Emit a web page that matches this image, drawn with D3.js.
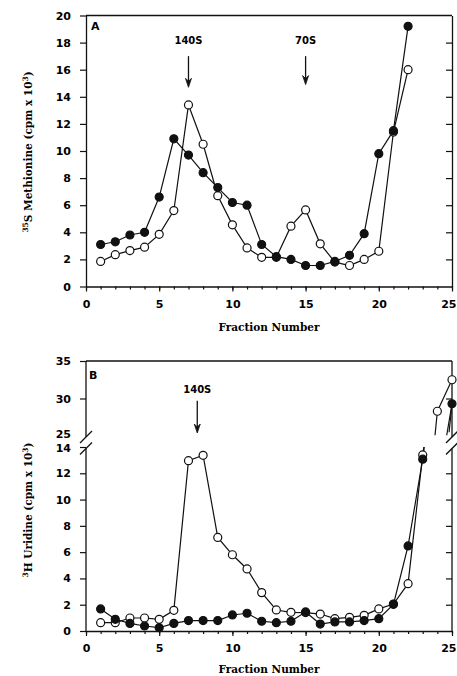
<!DOCTYPE html>
<html><head><meta charset="utf-8">
<script src="https://cdn.jsdelivr.net/npm/d3@7"></script>
<style>
html,body{margin:0;padding:0;background:#fff;}
svg{display:block;}
.tick text{font-family:"DejaVu Sans",sans-serif;font-weight:bold;font-size:11px;fill:#000;}
</style></head>
<body>
<script>
// ---------- DATA ----------
const fractionsA = d3.range(1, 23);
const filledA = [3.1,3.3,3.8,4.0,6.6,10.9,9.7,8.4,7.3,6.2,6.0,3.1,2.2,2.0,1.55,1.55,1.85,2.3,3.9,9.8,11.5,19.2];
const openA   = [1.85,2.35,2.65,2.9,3.85,5.6,13.4,10.5,6.7,4.55,2.85,2.15,2.15,4.45,5.65,3.15,1.8,1.55,2.0,2.6,11.4,16.0];

const fractionsB = d3.range(1, 24);
const openB   = [0.63,0.63,0.99,0.99,0.89,1.57,12.96,13.37,7.12,5.8,4.72,2.92,1.6,1.42,1.4,1.29,0.94,1.04,1.19,1.68,2.05,3.6,13.4];
const filledB = [1.68,0.89,0.58,0.38,0.25,0.58,0.79,0.79,0.79,1.22,1.35,0.74,0.63,0.74,1.45,0.53,0.69,0.69,0.79,0.94,2.03,6.47,13.07];
// values above the axis break (panel B)
const openUpperFractions = [24, 25];
const openUpper = [28.3, 32.5];
const filledUpperFractions = [25];
const filledUpper = [29.3];
// short line stubs crossing the axis break [fraction, value]
const openBreakStubs = [[[23,13.4],[23.08,14.0]], [[23.84,25.1],[24,28.3]]];
const filledBreakStubs = [[[23,13.07],[23.1,14.0]], [[24.64,25.1],[25,29.3]], [[24.8,25.5],[25,29.3]]];

const xTicks = [0,5,10,15,20,25];
const yTicksA = d3.range(0, 21, 2);
const yTicksBLow = d3.range(0, 15, 2);
const yTicksBHigh = [25, 30, 35];
const rightTicksBLow = [2,4,6,8,10,12];
const rightTicksBHigh = [30];

const annotationsA = [{label:"140S", x:7, yText:18.15, yTop:17.0, yBottom:14.7},
                      {label:"70S", x:15, yText:18.15, yTop:17.0, yBottom:14.9}];
const annotationsB = [{label:"140S", x:7.6, yText:31.2, yTop:29.7, yBottom:25.4}];

// ---------- DRAW ----------
const W = 457, H = 676;
const svg = d3.select("body").append("svg").attr("width", W).attr("height", H);

const x = d3.scaleLinear().domain([0,25]).range([86, 452]);
const yA = d3.scaleLinear().domain([0,20]).range([286.5, 15.5]);
const yBLow = d3.scaleLinear().domain([0,14]).range([631, 447]);
const yBHigh = d3.scaleLinear().domain([25,35]).range([436, 361]);
const yB = v => v <= 14 ? yBLow(v) : (v >= 25 ? yBHigh(v) : yBLow(14) + (v-14)/(11)*(yBHigh(25)-yBLow(14)));

const stroke = "#111";

function styleAxis(g){
  g.selectAll("path.domain").attr("stroke", stroke).attr("stroke-width", 1.3);
  g.selectAll(".tick line").attr("stroke", stroke).attr("stroke-width", 1.2);
}

function bottomAxis(y0){
  const g = svg.append("g").attr("transform", `translate(0,${y0})`);
  g.call(d3.axisBottom(x).tickValues(d3.range(0,26)).tickSize(3).tickFormat("").tickSizeOuter(0));
  styleAxis(g);
  const g2 = svg.append("g").attr("transform", `translate(0,${y0})`);
  g2.call(d3.axisBottom(x).tickValues(xTicks).tickSize(5).tickPadding(8.5).tickSizeOuter(0));
  g2.select("path.domain").remove();
  styleAxis(g2);
  // last label sits at the window edge: right-align it so it stays visible
  g2.selectAll(".tick").filter(d=>d===25).select("text")
    .attr("text-anchor","end").attr("x", W - 1 - x(25));
}

function line(px1, py1, px2, py2, w){
  svg.append("line").attr("x1",px1).attr("y1",py1).attr("x2",px2).attr("y2",py2)
    .attr("stroke", stroke).attr("stroke-width", w || 1.3);
}

function serifText(xp, yp, parts, rotate){
  const t = svg.append("text")
    .attr("font-family", "'DejaVu Serif', serif").attr("font-weight", "bold")
    .attr("font-size", 10.5).attr("text-anchor", "middle").attr("fill", "#000");
  if (rotate) t.attr("transform", `translate(${xp},${yp}) rotate(-90)`);
  else t.attr("x", xp).attr("y", yp);
  parts.forEach(p => {
    const s = t.append("tspan").text(p.t);
    if (p.sup) s.attr("font-size", 7.5).attr("baseline-shift", "super");
  });
  return t;
}

function drawSeries(xs, ys, yScale, filled, clip){
  const pts = xs.map((f,i)=>[x(f), yScale(ys[i])]);
  const g = svg.append("g");
  if (clip) g.attr("clip-path", clip);
  g.append("path").attr("d", d3.line()(pts)).attr("fill","none")
    .attr("stroke", stroke).attr("stroke-width", 1.2);
  return pts;
}
function drawMarkers(pts, filled){
  svg.append("g").selectAll("circle").data(pts).join("circle")
    .attr("cx", d=>d[0]).attr("cy", d=>d[1]).attr("r", 4)
    .attr("fill", filled ? "#111" : "#fff").attr("stroke", stroke).attr("stroke-width", 1.2);
}

function arrows(list, yScale){
  list.forEach(a => {
    const xp = x(a.x);
    svg.append("text").attr("x", xp).attr("y", yScale(a.yText) + 3.6)
      .attr("text-anchor","middle").attr("font-family","'DejaVu Sans',sans-serif")
      .attr("font-weight","bold").attr("font-size",10).text(a.label);
    const y1 = yScale(a.yTop), y2 = yScale(a.yBottom);
    line(xp, y1, xp, y2 - 6, 1.3);
    svg.append("path").attr("d", `M${xp-3},${y2-9} L${xp},${y2} L${xp+3},${y2-9} L${xp},${y2-6} Z`)
      .attr("fill", stroke).attr("stroke", stroke).attr("stroke-width", 0.8);
  });
}

// ===== Panel A =====
{
  bottomAxis(yA(0));
  const gl = svg.append("g").attr("transform", `translate(${x(0)},0)`);
  gl.call(d3.axisLeft(yA).tickValues(yTicksA).tickSize(6).tickPadding(9).tickSizeOuter(0));
  styleAxis(gl);
  const gr = svg.append("g").attr("transform", `translate(${x(25)},0)`);
  gr.call(d3.axisLeft(yA).tickValues(yTicksA.slice(1, -1)).tickSize(6).tickFormat("").tickSizeOuter(0));
  styleAxis(gr);
  line(x(0), yA(20), x(25), yA(20), 1.3);

  const pOpen = drawSeries(fractionsA, openA, yA, false);
  const pFilled = drawSeries(fractionsA, filledA, yA, true);
  drawMarkers(pOpen, false);
  drawMarkers(pFilled, true);

  svg.append("text").attr("x", 91).attr("y", 30).attr("font-family","'DejaVu Sans',sans-serif")
    .attr("font-weight","bold").attr("font-size",11).text("A");
  arrows(annotationsA, yA);

  serifText(x(12.5), 331, [{t:"Fraction Number"}]);
  serifText(32, 152, [{t:"35", sup:true},{t:"S Methionine (cpm x 10"},{t:"3", sup:true},{t:")"}], true);
}

// ===== Panel B =====
{
  const defs = svg.append("defs");
  defs.append("clipPath").attr("id","clipLow").append("rect")
    .attr("x", 0).attr("y", yBLow(14)).attr("width", W).attr("height", H);

  bottomAxis(yBLow(0));
  const gl = svg.append("g").attr("transform", `translate(${x(0)},0)`);
  gl.call(d3.axisLeft(yBLow).tickValues(yTicksBLow).tickSize(6).tickPadding(9).tickSizeOuter(0));
  gl.select("path.domain").remove();
  styleAxis(gl);
  gl.selectAll(".tick").filter(d=>d===14).select("text").attr("dy", "0.45em").attr("font-size", 10);
  const gh = svg.append("g").attr("transform", `translate(${x(0)},0)`);
  gh.call(d3.axisLeft(yBHigh).tickValues(yTicksBHigh).tickSize(6).tickPadding(9).tickSizeOuter(0));
  gh.select("path.domain").remove();
  styleAxis(gh);
  gh.selectAll(".tick").filter(d=>d===25).select("line").remove();
  gh.selectAll(".tick").filter(d=>d===25).select("text").attr("dy", "0.15em").attr("font-size", 10);
  const gr = svg.append("g").attr("transform", `translate(${x(25)},0)`);
  gr.call(d3.axisLeft(yBLow).tickValues(rightTicksBLow).tickSize(6).tickFormat("").tickSizeOuter(0));
  gr.select("path.domain").remove(); styleAxis(gr);
  const gr2 = svg.append("g").attr("transform", `translate(${x(25)},0)`);
  gr2.call(d3.axisLeft(yBHigh).tickValues(rightTicksBHigh).tickSize(6).tickFormat("").tickSizeOuter(0));
  gr2.select("path.domain").remove(); styleAxis(gr2);

  const breakTop = yBHigh(25) + 1, breakBot = yBLow(14) + 1.5;
  [x(0), x(25)].forEach(xp => {
    line(xp, yBHigh(35), xp, breakTop, 1.3);
    line(xp, breakBot, xp, yBLow(0), 1.3);
    line(xp-6, breakTop+6, xp+6, breakTop-6, 1.3);
    line(xp-6, breakBot+6, xp+6, breakBot-6, 1.3);
  });
  line(x(0), yBHigh(35), x(25), yBHigh(35), 1.3);

  const pOpen = drawSeries(fractionsB, openB, yBLow, false, "url(#clipLow)");
  const pFilled = drawSeries(fractionsB, filledB, yBLow, true, "url(#clipLow)");
  const pOpenU = drawSeries(openUpperFractions, openUpper, yBHigh, false);
  const pFilledU = drawSeries(filledUpperFractions, filledUpper, yBHigh, true);
  openBreakStubs.concat(filledBreakStubs).forEach(s => {
    svg.append("path").attr("d", d3.line()(s.map(d=>[x(d[0]), yB(d[1])])))
      .attr("fill","none").attr("stroke", stroke).attr("stroke-width", 1.2);
  });
  drawMarkers(pOpen, false);
  drawMarkers(pFilled, true);
  drawMarkers(pOpenU, false);
  drawMarkers(pFilledU, true);

  svg.append("text").attr("x", 89).attr("y", 379).attr("font-family","'DejaVu Sans',sans-serif")
    .attr("font-weight","bold").attr("font-size",11).text("B");
  arrows(annotationsB, yB);

  serifText(x(12.5), 673, [{t:"Fraction Number"}]);
  serifText(32, 510, [{t:"3", sup:true},{t:"H Uridine (cpm x 10"},{t:"3", sup:true},{t:")"}], true);
}
</script>
</body></html>
